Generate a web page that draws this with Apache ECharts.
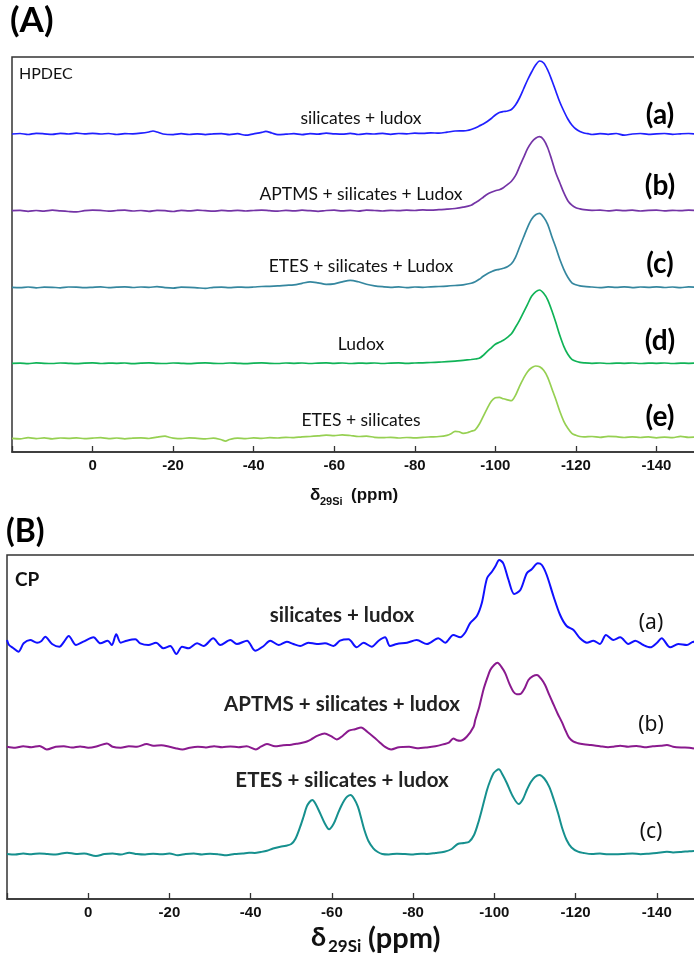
<!DOCTYPE html>
<html><head><meta charset="utf-8">
<script src="https://cdn.jsdelivr.net/npm/echarts@6/dist/echarts.min.js"></script>
<style>html,body{margin:0;padding:0;background:#fff}#c{width:694px;height:962px}</style>
</head><body><div id="c"></div>
<script>
// ---- data: chemical shift (ppm) vs intensity (arbitrary units, baseline = 0) ----
const tickLabels = [0, -20, -40, -60, -80, -100, -120, -140];

// Panel A (HPDEC)
const hpdecNames = ['silicates + ludox', 'APTMS + silicates + Ludox', 'ETES + silicates + Ludox', 'Ludox', 'ETES + silicates'];
const hpdecTags = ['(a)', '(b)', '(c)', '(d)', '(e)'];
const hpdecOffsets = [318, 241.3, 164.7, 88.7, 13.7];

const hpdecA = [[20,0],[18,0.5],[16,-0.5],[14,0.6],[12,0.2],[10,-0.4],[8,0.6],[6,0],[4,0.8],[2,0.2],[0,0.6],[-2,0],[-4,0.5],[-6,-0.5],[-8,0.3],[-10,0.2],[-12,0.8],[-14,2],[-15,3],[-16,2],[-17.5,0],[-20,-0.6],[-22,0.3],[-24,-0.5],[-26,0.2],[-28,-0.6],[-30,0.2],[-32,0.4],[-34,-0.6],[-36,0.3],[-38,-1.2],[-40,0.2],[-42,1.6],[-43,2.6],[-44.5,1],[-46,-0.6],[-48,-0.2],[-50,0.3],[-52,-0.6],[-54,0.4],[-56,-0.2],[-58,0.8],[-60,0.2],[-62,-0.2],[-64,0.6],[-66,-0.5],[-68,0.4],[-70,0],[-72,0.6],[-74,-0.3],[-76,0.5],[-78,0.2],[-80,0.8],[-82,0.6],[-84,1.2],[-86,0.8],[-88,1.8],[-90,3],[-92,3.2],[-93,3.5],[-94,4.5],[-95,6],[-96,8],[-97,10],[-98,12.5],[-99,15.5],[-100,19],[-101,21.5],[-102,22.5],[-103,23],[-104,24.5],[-105,29],[-106,36],[-107,45],[-108,54],[-109,62],[-110,69],[-111,73],[-112,71],[-113,64],[-114,54],[-115,43],[-116,32],[-117,23],[-118,15],[-119,9],[-120,5],[-121,2.5],[-122,1],[-123,0.3],[-124,-0.5],[-126,0.4],[-128,-0.3],[-130,0.5],[-132,-1.2],[-134,0],[-136,0.5],[-138,-0.4],[-140,0.2],[-142,0.5],[-144,-0.3],[-146,0.2],[-148,0.5],[-150,0]];

const hpdecB = [[20,0],[18,0.3],[16,-0.6],[14,0.2],[12,-0.4],[10,0.5],[8,-0.2],[6,-0.8],[4,-1.2],[2,0],[0,0.5],[-2,0.3],[-4,-0.5],[-6,0.2],[-8,0.6],[-10,-0.3],[-12,0.2],[-14,-0.6],[-16,0.4],[-18,0],[-20,-0.8],[-22,0.3],[-24,-0.2],[-26,0.5],[-28,0],[-30,-0.5],[-32,0.3],[-34,-0.2],[-36,0.4],[-38,-0.3],[-40,0.2],[-42,0.6],[-44,0],[-46,-0.4],[-48,0.3],[-50,-0.2],[-52,0.5],[-54,0],[-56,-0.6],[-58,0.2],[-60,0.5],[-62,-0.2],[-64,0.3],[-66,-0.4],[-68,0.6],[-70,0.2],[-72,-0.3],[-74,0.4],[-76,0],[-78,0.5],[-80,0.2],[-82,0.8],[-84,0.5],[-86,1],[-88,1.5],[-90,2.2],[-92,3.5],[-94,5.5],[-95,8],[-96,10.5],[-97,13.5],[-98,16.5],[-99,18.5],[-100,20],[-101,21],[-102,23],[-103,26],[-104,29.5],[-105,35],[-106,44],[-107,53],[-108,62],[-109,68.5],[-110,72.5],[-111,74],[-112,71],[-113,63],[-114,51],[-115,38],[-116,28],[-117,18],[-118,10],[-119,5.5],[-120,3],[-121,1.8],[-122,1],[-124,0.3],[-126,0.6],[-128,-0.2],[-130,0.5],[-132,0],[-134,0.6],[-136,-0.3],[-138,0.3],[-140,0.6],[-142,-0.2],[-144,0.4],[-146,0],[-148,0.5],[-150,0.2]];

const hpdecC = [[20,0],[18,-0.4],[16,0.3],[14,-0.6],[12,0.2],[10,0],[8,-0.5],[6,0.3],[4,0.2],[2,-0.4],[0,0],[-2,0.4],[-4,-0.3],[-6,0.2],[-8,0.5],[-10,-0.2],[-12,0.3],[-14,0],[-16,0.6],[-18,-0.3],[-20,-0.8],[-22,0.2],[-24,0],[-26,-0.5],[-28,-1],[-30,0],[-32,0.2],[-34,-0.4],[-36,0.2],[-38,0],[-40,0.3],[-42,0.8],[-44,1],[-46,1.4],[-48,2],[-50,2.5],[-52,4],[-54,5.5],[-56,4.5],[-58,3],[-60,3.5],[-62,5.5],[-64,7],[-66,5.5],[-68,3],[-70,1.5],[-72,0.6],[-74,0],[-76,0.4],[-78,-0.3],[-80,0.3],[-82,0],[-84,0.5],[-86,0.8],[-88,1.2],[-90,1.8],[-92,2.5],[-94,4],[-95,5.5],[-96,8],[-97,11],[-98,13.5],[-99,15.5],[-100,17.2],[-101,18],[-102,19],[-103,20.5],[-104,23.5],[-105,30],[-106,40],[-107,50],[-108,60],[-109,68],[-110,72.5],[-111,74],[-112,70],[-113,63],[-114,51],[-115,40],[-116,28],[-117,18],[-118,10],[-119,4.5],[-120,2.5],[-121,1.5],[-122,1],[-124,0.3],[-126,-0.4],[-128,0.4],[-130,0],[-132,0.5],[-134,-0.3],[-136,0.3],[-138,0],[-140,0.5],[-142,-0.2],[-144,0.3],[-146,-0.3],[-148,0.4],[-150,0]];

const hpdecD = [[20,0],[18,0.2],[16,-0.3],[14,0.4],[12,0],[10,-0.2],[8,0.3],[6,0],[4,-0.3],[2,0.2],[0,0.4],[-2,-0.2],[-4,0.2],[-6,0],[-8,0.3],[-10,-0.3],[-12,0.2],[-14,0.5],[-16,0],[-18,-0.2],[-20,0.3],[-22,0],[-24,-0.3],[-26,0.2],[-28,0.4],[-30,0],[-32,-0.2],[-34,0.3],[-36,0],[-38,-0.3],[-40,0.2],[-42,0.4],[-44,0],[-46,-0.2],[-48,0.3],[-50,0],[-52,0.3],[-54,-0.2],[-56,0.2],[-58,0.4],[-60,0],[-62,0.3],[-64,-0.2],[-66,0.2],[-68,0],[-70,0.3],[-72,-0.2],[-74,0.2],[-76,0.4],[-78,0],[-80,0.3],[-82,0.5],[-84,0.8],[-86,1.2],[-88,1.6],[-90,2.2],[-92,3],[-94,3.8],[-95,4.3],[-96,5],[-97,8],[-98,12],[-99,15.5],[-100,19],[-101,21],[-102,23],[-103,26],[-104,29.5],[-105,36],[-106,43],[-107,51],[-108,59],[-109,67],[-110,71.5],[-111,73.3],[-112,70],[-113,63.5],[-114,53],[-115,41],[-116,28],[-117,17],[-118,9],[-119,4],[-120,2],[-121,1],[-122,0.5],[-124,0],[-126,0.3],[-128,-0.2],[-130,0.2],[-132,0],[-134,0.3],[-136,-0.2],[-138,0.2],[-140,0],[-142,0.3],[-144,-0.2],[-146,0.2],[-148,0],[-150,0.2]];

const hpdecE = [[20,0],[18,-0.5],[16,0.6],[14,-0.3],[12,0.4],[10,-0.6],[8,0.3],[6,0],[4,0.5],[2,-0.4],[0,0.2],[-2,0.6],[-4,-0.3],[-6,0.3],[-8,-0.6],[-10,0.2],[-12,0.5],[-14,-0.2],[-16,1.2],[-18,2.2],[-19,1],[-20,0.2],[-22,-0.4],[-24,0.5],[-26,0],[-28,-0.6],[-30,0.2],[-32,-1.5],[-33,-2.8],[-34,-1.2],[-36,0.2],[-38,-0.4],[-40,0.5],[-42,0],[-44,0.6],[-46,0.3],[-48,1],[-50,0.6],[-52,1.5],[-54,1.8],[-56,2.4],[-58,3.2],[-60,2.6],[-62,3.5],[-64,2.8],[-66,1.8],[-68,2.2],[-70,1],[-72,0.6],[-74,1],[-76,0.3],[-78,0.8],[-80,0.4],[-82,1],[-84,1.4],[-86,1.8],[-88,3],[-89,4.5],[-90,7],[-91,6.5],[-92,5],[-93,5.5],[-94,7],[-95,8.5],[-96,14],[-97,22],[-98,30],[-99,37],[-100,40.5],[-101,41],[-102,39.5],[-103,38.5],[-104,37.6],[-105,43],[-106,52],[-107,60],[-108,66.6],[-109,70.5],[-110,72.3],[-111,71.5],[-112,68],[-113,61],[-114,50],[-115,39],[-116,27],[-117,17],[-118,10],[-119,5],[-120,3],[-121,1.8],[-122,1.4],[-124,1.8],[-126,1],[-128,2],[-130,1.6],[-132,0.8],[-134,1.5],[-136,0.8],[-138,1.4],[-140,0.5],[-142,1.2],[-144,0.6],[-146,2],[-148,1],[-150,1.2]];

// Panel B (CP)
const cpNames = ['silicates + ludox', 'APTMS + silicates + ludox', 'ETES + silicates + ludox'];
const cpTags = ['(a)', '(b)', '(c)'];
const cpOffsets = [254, 152.3, 45];

const cpA = [[20,5],[19.5,0],[18.5,-3],[17.2,-6.7],[15.9,1.7],[14.3,5],[12.6,2.3],[11.5,4],[10.6,8.3],[8.9,1],[7.1,-1.7],[6,3],[4.8,9],[3,0],[1.2,3.3],[-1.3,7.7],[-3,1.7],[-4.8,4.3],[-5.8,0],[-6.9,10.7],[-8,2.3],[-9.5,4.3],[-11.6,5.7],[-12.8,1.7],[-14.8,0],[-16.7,2.3],[-18.5,-3.3],[-20.2,-1],[-21.7,-9],[-23.1,-1.7],[-24.7,-3.3],[-26.8,1.7],[-28.4,-1],[-30.8,6.7],[-32.5,0],[-35,5],[-36.6,1],[-39.1,4.3],[-41.1,-5.7],[-43.2,-1],[-44.8,4.3],[-46.9,0],[-48.9,3.3],[-50.5,1],[-52.2,-1],[-54.2,2.3],[-56.3,1],[-58.3,1.7],[-60.4,-1],[-62,4.3],[-64.1,5.7],[-66.1,-2.3],[-67.8,2.3],[-69.8,-1.7],[-71.5,4.3],[-73.1,7.7],[-74.3,-1],[-76,1],[-78.5,2.3],[-80.9,5],[-83.4,1],[-86.2,6.7],[-87.9,2.3],[-89.9,10],[-91.6,7.7],[-92.8,12.3],[-94,21.7],[-95.7,29],[-96.9,41.7],[-98.2,66.7],[-99.4,73.3],[-100.3,79],[-101.2,85],[-102.2,81.7],[-103.5,65],[-104.9,51],[-106.4,55],[-108,71.7],[-109.2,75.7],[-110.7,81.7],[-111.7,80],[-112.9,70],[-114.6,48.3],[-116.2,30],[-117.8,19],[-119.5,15],[-121.1,6.7],[-122.8,2.3],[-124.4,4.3],[-126,1],[-127.5,10],[-129.3,5],[-131,7.7],[-133,1],[-134.7,4.3],[-136.7,0],[-138.4,-2.3],[-140,2],[-141.2,6.7],[-143.3,-2.3],[-145.3,1],[-147.4,0],[-149,3.3],[-150,-2]];

const cpB = [[20,0],[18,-1],[16,0.5],[14,-0.5],[12,0.8],[10.2,-2.7],[8,0],[6,0.5],[4,-0.8],[2,0.3],[0,-1],[-2,0.2],[-4.6,3.3],[-6,0],[-8,-1],[-10,0.5],[-12,0],[-14.4,2.7],[-16,1],[-18,1.5],[-20,0],[-21.5,-1.5],[-23.2,-2.7],[-25,-1],[-27,0],[-29,-0.8],[-31,0.5],[-33,-0.5],[-35,0.3],[-37,-0.6],[-39,0.4],[-41.3,-2.7],[-42.5,0],[-44,2.7],[-46,0.5],[-48,1.5],[-50,2],[-51.5,3],[-52.7,4],[-54,5.5],[-54.9,7.3],[-56.5,11],[-58.2,13.3],[-59.8,10.5],[-61.2,7.3],[-62.7,11],[-64.2,16],[-65.7,17.5],[-67.2,19.3],[-68.7,15],[-70.2,10],[-71.6,5],[-73,0],[-74.6,-2.7],[-76.5,-0.5],[-79,0],[-81,-1.5],[-83.4,-0.7],[-85.5,0.5],[-87.7,2.7],[-88.8,4],[-89.9,8.3],[-90.8,6.5],[-91.6,6],[-93.2,10],[-94.9,20],[-95.3,26.7],[-96.3,40],[-97.3,56.7],[-98.2,68],[-99,76.7],[-100,82],[-100.8,84],[-101.7,80],[-102.7,73.3],[-103.7,63],[-104.7,55],[-105.5,52.5],[-106.4,52.7],[-107.4,58],[-108.4,66.7],[-109.5,70.5],[-110.5,71.7],[-111.5,68],[-112.5,61.7],[-113.5,52],[-114.6,42],[-115.6,33],[-116.7,24],[-117.6,15.5],[-118.4,9],[-119.5,5],[-120.6,3.5],[-122,2.5],[-123.8,1.7],[-126,0.5],[-128,-0.5],[-129.3,0],[-131,1],[-133,0],[-135,0.8],[-137,-0.5],[-139,0.5],[-141,1],[-142.5,1.7],[-144,0],[-146,-0.8],[-148,-1],[-149,-1.7],[-150,-1]];

const cpC = [[20,0],[18,-0.5],[16,0.5],[14,-0.3],[12,0.6],[10,0],[8,-0.5],[5.2,1.3],[3,0],[1,0.5],[-1.9,-2],[-4,0],[-6,0.5],[-8,-0.5],[-10.1,1.3],[-12,0],[-14,-0.5],[-16,0.3],[-18,-0.3],[-20,0.5],[-22.1,-1.3],[-24,0],[-26,0.5],[-28,-0.5],[-30,0.3],[-32,-0.2],[-34.1,-1.3],[-36,0],[-38,0.5],[-39.6,1.3],[-41,1],[-42.5,2],[-44,3.3],[-45.5,5.5],[-47.3,7.3],[-48.7,8.3],[-50,10],[-51,15],[-52.2,27.3],[-53,37],[-53.8,47.3],[-54.5,52],[-55.2,54],[-56,50],[-57.1,40.7],[-58.2,31],[-59.3,24.7],[-60.4,30],[-61.5,40.7],[-62.3,48],[-63.1,54],[-63.8,57.5],[-64.6,59],[-65.5,55],[-66.4,47.3],[-67.2,36],[-68,24],[-69,13],[-70.2,5.7],[-71.3,2],[-72.4,0],[-74,-0.5],[-76,0.3],[-78,0],[-80,-0.4],[-82,0.3],[-83.4,0],[-85.5,1],[-87.7,2.3],[-89.5,5],[-91,10],[-92.5,11],[-93.8,12.3],[-95,19],[-96,30.7],[-97.1,47],[-98.2,64],[-99,73.5],[-99.8,80.7],[-100.5,83.5],[-101.1,84.7],[-102,79.5],[-103.1,70.7],[-104.5,58],[-106,50],[-107,54.5],[-108,64],[-109,72],[-110,77],[-111.1,79],[-112.3,75.5],[-113.5,67.3],[-114.6,55],[-115.7,40.7],[-116.7,26],[-117.8,14],[-119,6.5],[-120.6,2.3],[-122,1],[-124,0],[-126,0.5],[-128,-0.3],[-131.5,0],[-134,0.5],[-136,-0.2],[-138,0.3],[-140,1],[-142.5,2.3],[-144,1.5],[-146,2],[-148,2.8],[-150,3.3]];

// ---- styling / layout ----
const hpdecData = [hpdecA, hpdecB, hpdecC, hpdecD, hpdecE];
const hpdecColors = ['#2020ff', '#7434a6', '#35879f', '#10b357', '#96d052'];
const cpData = [cpA, cpB, cpC];
const cpColors = ['#1010ff', '#8a1a8e', '#16908e'];

const chart = echarts.init(document.getElementById('c'), null, {renderer: 'canvas'});

function xAxisCfg(gi) {
  return {
    type: 'value', gridIndex: gi, min: -160, max: 20, interval: 20, inverse: true,
    axisLine: {show: true, lineStyle: {color: '#333', width: 1.6}},
    axisTick: {show: true, inside: true, length: 6, lineStyle: {color: '#333', width: 1.3}},
    axisLabel: {
      show: true, margin: 6, color: '#111', fontWeight: 'bold', fontSize: 15,
      fontFamily: 'Liberation Sans',
      formatter: v => (tickLabels.indexOf(v) >= 0 ? String(v) : '')
    },
    splitLine: {show: false}
  };
}
function yAxisCfg(gi, max) {
  return {type: 'value', gridIndex: gi, min: 0, max: max, show: false, splitLine: {show: false}};
}

const series = [];
hpdecData.forEach((d, i) => {
  series.push({
    type: 'line', xAxisIndex: 0, yAxisIndex: 0, showSymbol: false, smooth: 0.3,
    lineStyle: {color: hpdecColors[i], width: 1.7}, itemStyle: {color: hpdecColors[i]},
    data: d.map(p => [p[0], p[1] + hpdecOffsets[i]]), z: 3
  });
});
cpData.forEach((d, i) => {
  series.push({
    type: 'line', xAxisIndex: 1, yAxisIndex: 1, showSymbol: false, smooth: 0.3,
    lineStyle: {color: cpColors[i], width: 2}, itemStyle: {color: cpColors[i]},
    data: d.map(p => [p[0], p[1] + cpOffsets[i]]), z: 3
  });
});

function txt(text, x, y, size, weight, family, align, color) {
  return {
    type: 'text', x: x, y: y, z: 10,
    style: {
      text: text, fontSize: size, fontWeight: weight || 'normal',
      fontFamily: family || 'Lato', fill: color || '#111',
      align: align || 'center', verticalAlign: 'middle',
      textAlign: align || 'center', textVerticalAlign: 'middle'
    }
  };
}

const hpdecLabelY = [118, 194, 266, 344, 420];
const hpdecTagY = [115, 186, 264, 341, 417];
const cpLabelY = [615, 704, 780];
const cpTagY = [623, 725, 832];

const graphics = [
  txt('(A)', 10, 21, 35, 'bold', 'Lato', 'left', '#000'),
  txt('HPDEC', 19, 74, 16, 'normal', 'Lato', 'left', '#111'),
  txt('(B)', 6, 532, 32, 'bold', 'Lato', 'left', '#000'),
  txt('CP', 15, 580, 19, 'bold', 'Lato', 'left', '#111'),
  // axis titles
  txt('δ', 310, 495, 17, 'bold', 'Liberation Sans', 'left', '#111'),
  txt('29Si', 320, 502, 11, 'bold', 'Liberation Sans', 'left', '#111'),
  txt('(ppm)', 351, 495, 17, 'bold', 'Liberation Sans', 'left', '#111'),
  txt('δ', 311, 937, 27, 'bold', 'Lato', 'left', '#111'),
  txt('29Si', 328, 947, 17, 'bold', 'Lato', 'left', '#111'),
  txt('(ppm)', 368, 939, 29, 'bold', 'Lato', 'left', '#111')
];
hpdecNames.forEach((n, i) => {
  graphics.push(txt(n, 361, hpdecLabelY[i], 17.5, 'normal', 'Lato', 'center', '#111'));
  graphics.push(txt(hpdecTags[i], 660, hpdecTagY[i], 28, 'bold', 'Lato', 'center', '#000'));
});
cpNames.forEach((n, i) => {
  graphics.push(txt(n, 342, cpLabelY[i], 20.5, 'bold', 'Lato', 'center', '#222'));
  graphics.push(txt(cpTags[i], 651, cpTagY[i], 21, 'normal', 'Noto Sans', 'center', '#111'));
});

chart.setOption({
  animation: false,
  backgroundColor: '#fff',
  grid: [
    {left: 12, top: 57, width: 725, height: 395, show: true, borderColor: '#333', borderWidth: 1.5,
     backgroundColor: 'transparent', containLabel: false, outerBoundsMode: 'none'},
    {left: 7, top: 555, width: 731, height: 344, show: true, borderColor: '#333', borderWidth: 1.5,
     backgroundColor: 'transparent', containLabel: false, outerBoundsMode: 'none'}
  ],
  xAxis: [xAxisCfg(0), xAxisCfg(1)],
  yAxis: [yAxisCfg(0, 395), yAxisCfg(1, 344)],
  series: series,
  graphic: graphics
});
</script>
</body></html>
